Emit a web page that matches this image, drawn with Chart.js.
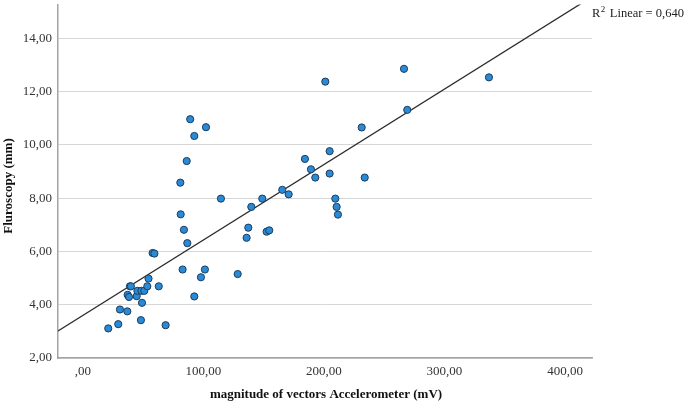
<!DOCTYPE html>
<html>
<head>
<meta charset="utf-8">
<script src="https://cdn.jsdelivr.net/npm/chart.js@4.4.0/dist/chart.umd.min.js"></script>
<style>
  body { margin: 0; background: #fff; }
  #wrap { width: 685px; height: 403px; }
</style>
</head>
<body>
<div id="wrap"><canvas id="scatter" width="685" height="403"></canvas></div>
<script>
// accelerometer magnitude (mV) vs fluoroscopy (mm)
const accelValues = [21.0, 29.3, 30.7, 36.8, 48.1, 68.6, 37.1, 38.2, 39.0, 39.8, 44.6, 45.2, 48.5, 50.9, 49.0, 53.4, 54.4, 62.9, 57.8, 59.3,
  89.0, 102.1, 92.4, 86.1, 80.8, 114.5, 148.8, 139.7, 81.1, 83.8, 86.6, 137.2, 135.8, 152.4, 154.6,
  165.4, 170.7, 184.2, 189.2, 192.8, 82.7, 101.2, 97.9, 128.4, 92.4,
  201.1, 266.4, 269.1, 231.3, 204.7, 204.7, 233.8, 209.4, 210.5, 211.6, 336.9];
const fluoroValues = [3.11, 3.27, 3.82, 3.75, 3.42, 3.23, 4.37, 4.29, 4.69, 4.69, 4.32, 4.52, 4.52, 4.52, 4.07, 4.69, 4.98, 4.69, 5.94, 5.92,
  10.96, 10.66, 10.33, 9.39, 8.58, 7.98, 7.98, 7.67, 7.39, 6.81, 6.31, 6.89, 6.51, 6.74, 6.79,
  8.31, 8.14, 9.47, 9.08, 8.77, 5.32, 5.32, 5.03, 5.15, 4.31,
  12.37, 12.85, 11.31, 10.65, 9.76, 8.92, 8.77, 7.98, 7.67, 7.38, 12.53];

const xTicks = [0, 100, 200, 300, 400];
const xTickLabels = [',00', '100,00', '200,00', '300,00', '400,00'];
const yTicks = [2, 4, 6, 8, 10, 12, 14];
const yTickLabels = ['2,00', '4,00', '6,00', '8,00', '10,00', '12,00', '14,00'];

// linear fit shown in the picture
const fitIntercept = 3.60;
const fitSlope = 0.0283;
const rSquared = '0,640';

const xMin = -20.7, xMax = 422.4;
const yMin = 2, yMax = 15.26;

const points = accelValues.map((x, i) => ({ x: x, y: fluoroValues[i] }));
const fitLine = [xMin, xMax].map(x => ({ x: x, y: fitIntercept + fitSlope * x }));

const serif = '"Liberation Serif", "Times New Roman", serif';

// axis titles and the R² note drawn by hand so they sit where the original has them
const labelsPlugin = {
  id: 'labels',
  afterDraw(chart) {
    const ctx = chart.ctx;
    const area = chart.chartArea;
    ctx.save();
    ctx.fillStyle = '#111';
    ctx.font = 'bold 13px ' + serif;
    ctx.textAlign = 'center';
    ctx.textBaseline = 'middle';
    ctx.fillText('magnitude of vectors Accelerometer (mV)', 326, 395);

    ctx.translate(9, 186);
    ctx.rotate(-Math.PI / 2);
    ctx.fillText('Fluroscopy (mm)', 0, 0);
    ctx.restore();

    ctx.save();
    ctx.fillStyle = '#222';
    ctx.textAlign = 'left';
    ctx.textBaseline = 'alphabetic';
    ctx.font = '12.5px ' + serif;
    let x = area.right;
    ctx.fillText('R', x, 17);
    x += ctx.measureText('R').width;
    ctx.font = '9px ' + serif;
    ctx.fillText('2', x + 0.5, 12);
    x += ctx.measureText('2').width + 5;
    ctx.font = '12.5px ' + serif;
    ctx.fillText('Linear = ' + rSquared, x, 17);
    ctx.restore();
  }
};

new Chart(document.getElementById('scatter'), {
  type: 'scatter',
  data: {
    datasets: [{
      data: points,
      backgroundColor: '#2a8ad6',
      borderColor: '#1b3d5e',
      borderWidth: 1,
      pointRadius: 3.6,
      pointHoverRadius: 3.6
    }, {
      type: 'line',
      data: fitLine,
      borderColor: '#2b2b2b',
      borderWidth: 1.3,
      pointRadius: 0,
      fill: false
    }]
  },
  options: {
    responsive: false,
    animation: false,
    layout: { padding: { left: 0, right: 93, top: 0, bottom: 0 } },
    plugins: {
      legend: { display: false },
      tooltip: { enabled: false }
    },
    scales: {
      x: {
        type: 'linear',
        min: xMin,
        max: xMax,
        afterBuildTicks: s => { s.ticks = xTicks.map(v => ({ value: v })); },
        afterFit: s => { s.height = 45; s.paddingLeft = 0; s.paddingRight = 0; },
        grid: { display: false, drawTicks: false },
        border: { display: true, color: '#a3a3a3', width: 1.5 },
        ticks: {
          color: '#333',
          font: { family: serif, size: 13 },
          padding: 6,
          maxRotation: 0,
          callback: v => xTickLabels[xTicks.indexOf(v)]
        }
      },
      y: {
        type: 'linear',
        min: yMin,
        max: yMax,
        afterBuildTicks: s => { s.ticks = yTicks.map(v => ({ value: v })); },
        afterFit: s => { s.width = 58; s.paddingTop = 0; s.paddingBottom = 0; },
        grid: { color: '#d6d6d6', lineWidth: 1, drawTicks: false },
        border: { display: true, color: '#a3a3a3', width: 1.5 },
        ticks: {
          color: '#333',
          font: { family: serif, size: 13 },
          padding: 6,
          callback: v => yTickLabels[yTicks.indexOf(v)]
        }
      }
    }
  },
  plugins: [labelsPlugin]
});
</script>
</body>
</html>
